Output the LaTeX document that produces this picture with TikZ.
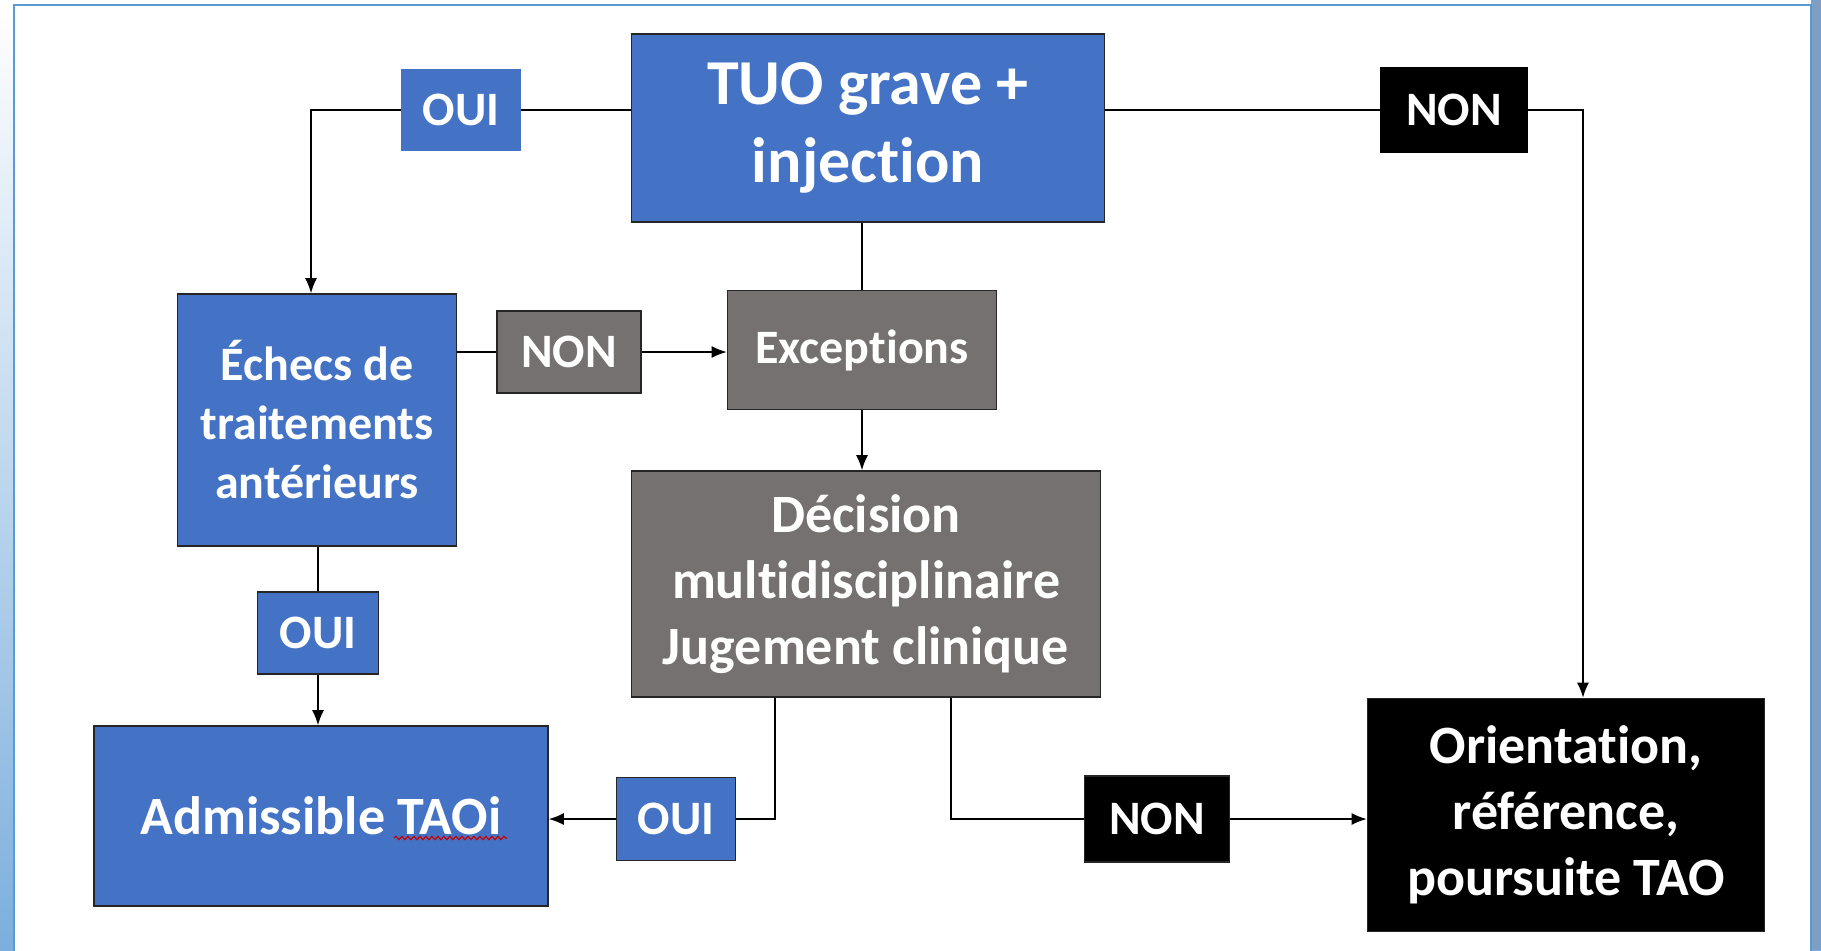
\documentclass[tikz,border=0pt]{standalone}
\usepackage{fontspec}
\setmainfont{Carlito}[RawFeature={-liga;-clig;-calt}]
\usetikzlibrary{arrows.meta,decorations.pathmorphing}
\definecolor{oblue}{HTML}{4472C4}
\definecolor{ogray}{HTML}{767171}
\definecolor{panelblue}{HTML}{5B9BD5}
\definecolor{steel}{HTML}{7E9EC4}
\tikzstyle{box}=[rectangle,draw=black!85,line width=0.8pt,text=white,align=center,inner sep=0pt]
\tikzstyle{bluebox}=[box,fill=oblue]
\tikzstyle{graybox}=[box,fill=ogray]
\tikzstyle{blackbox}=[box,fill=black]
\tikzstyle{answer}=[font=\fontsize{24}{29}\selectfont\bfseries]

\begin{document}
\begin{tikzpicture}[x=0.5pt,y=-0.5pt,>={Latex[length=7.5pt,width=6pt]},line width=0.75pt]
\useasboundingbox (0,0) rectangle (1821,950);
\shade[top color=white,bottom color=panelblue!80] (0,0) rectangle (1821,950);
\fill[steel] (1811,0) rectangle (1821,950);
\draw[panelblue,fill=white,line width=1pt] (14,5) rectangle (1811,960);

\node[bluebox,minimum width=236.5pt,minimum height=94pt,font=\fontsize{32}{39}\selectfont\bfseries] at (868, 128) (tuo) {TUO grave +\\injection};
\node[bluebox,answer,draw=oblue,minimum width=59.5pt,minimum height=40.5pt] at (461, 110) (oui1) {OUI};
\node[blackbox,answer,draw=black,minimum width=73.5pt,minimum height=42.5pt] at (1454, 110) (non1) {NON};
\node[bluebox,minimum width=139.5pt,minimum height=126pt,font=\fontsize{24}{29.5}\selectfont\bfseries] at (317, 420) (echecs) {Échecs de\\traitements\\antérieurs};
\node[graybox,answer,minimum width=72pt,minimum height=41pt] at (569, 352) (non2) {NON};
\node[graybox,answer,minimum width=134.5pt,minimum height=59.5pt] at (862, 350) (exc) {Exceptions};
\node[graybox,minimum width=234.5pt,minimum height=113pt,font=\fontsize{27}{33}\selectfont\bfseries] at (866, 584) (dec) {Décision\\multidisciplinaire\\Jugement clinique};
\node[bluebox,answer,minimum width=60.5pt,minimum height=41pt] at (318, 633) (oui2) {OUI};
\node[bluebox,minimum width=227pt,minimum height=90pt,font=\fontsize{27}{33}\selectfont\bfseries] at (321, 816) (adm) {Admissible TAOi};
\node[bluebox,answer,minimum width=59.5pt,minimum height=41.5pt] at (676, 819) (oui3) {OUI};
\node[blackbox,answer,minimum width=72.5pt,minimum height=43pt] at (1157, 819) (non3) {NON};
\node[blackbox,minimum width=198.5pt,minimum height=116.5pt,font=\fontsize{27}{33}\selectfont\bfseries] at (1566, 815) (ori) {Orientation,\\référence,\\poursuite TAO};

% spell-check mark under TAOi
\draw[red!80!black,line width=0.6pt,decorate,decoration={snake,amplitude=0.8pt,segment length=3pt}] (394,838) -- (507,838);

\coordinate (d1) at ([xshift=-45.5pt]dec.south);
\coordinate (d2) at ([xshift=42.5pt]dec.south);

\draw (tuo.west |- oui1.east) -- (oui1.east);
\draw[->] (oui1.west) -| ([xshift=-3pt]echecs.north);
\draw (tuo.east |- non1.west) -- (non1.west);
\draw[->] (non1.east) -| ([xshift=8.5pt]ori.north);
\draw (exc.north |- tuo.south) -- (exc.north);
\draw (echecs.east |- non2.west) -- (non2.west);
\draw[->] (non2.east) -- (exc.west |- non2.east);
\draw[->] (exc.south) -- (exc.south |- dec.north);
\draw (oui2.north |- echecs.south) -- (oui2.north);
\draw[->] (oui2.south) -- (oui2.south |- adm.north);
\draw (d1) |- (oui3.east);
\draw[->] (oui3.west) -- (adm.east |- oui3.west);
\draw (d2) |- (non3.west);
\draw[->] (non3.east) -- (ori.west |- non3.east);
\end{tikzpicture}
\end{document}
